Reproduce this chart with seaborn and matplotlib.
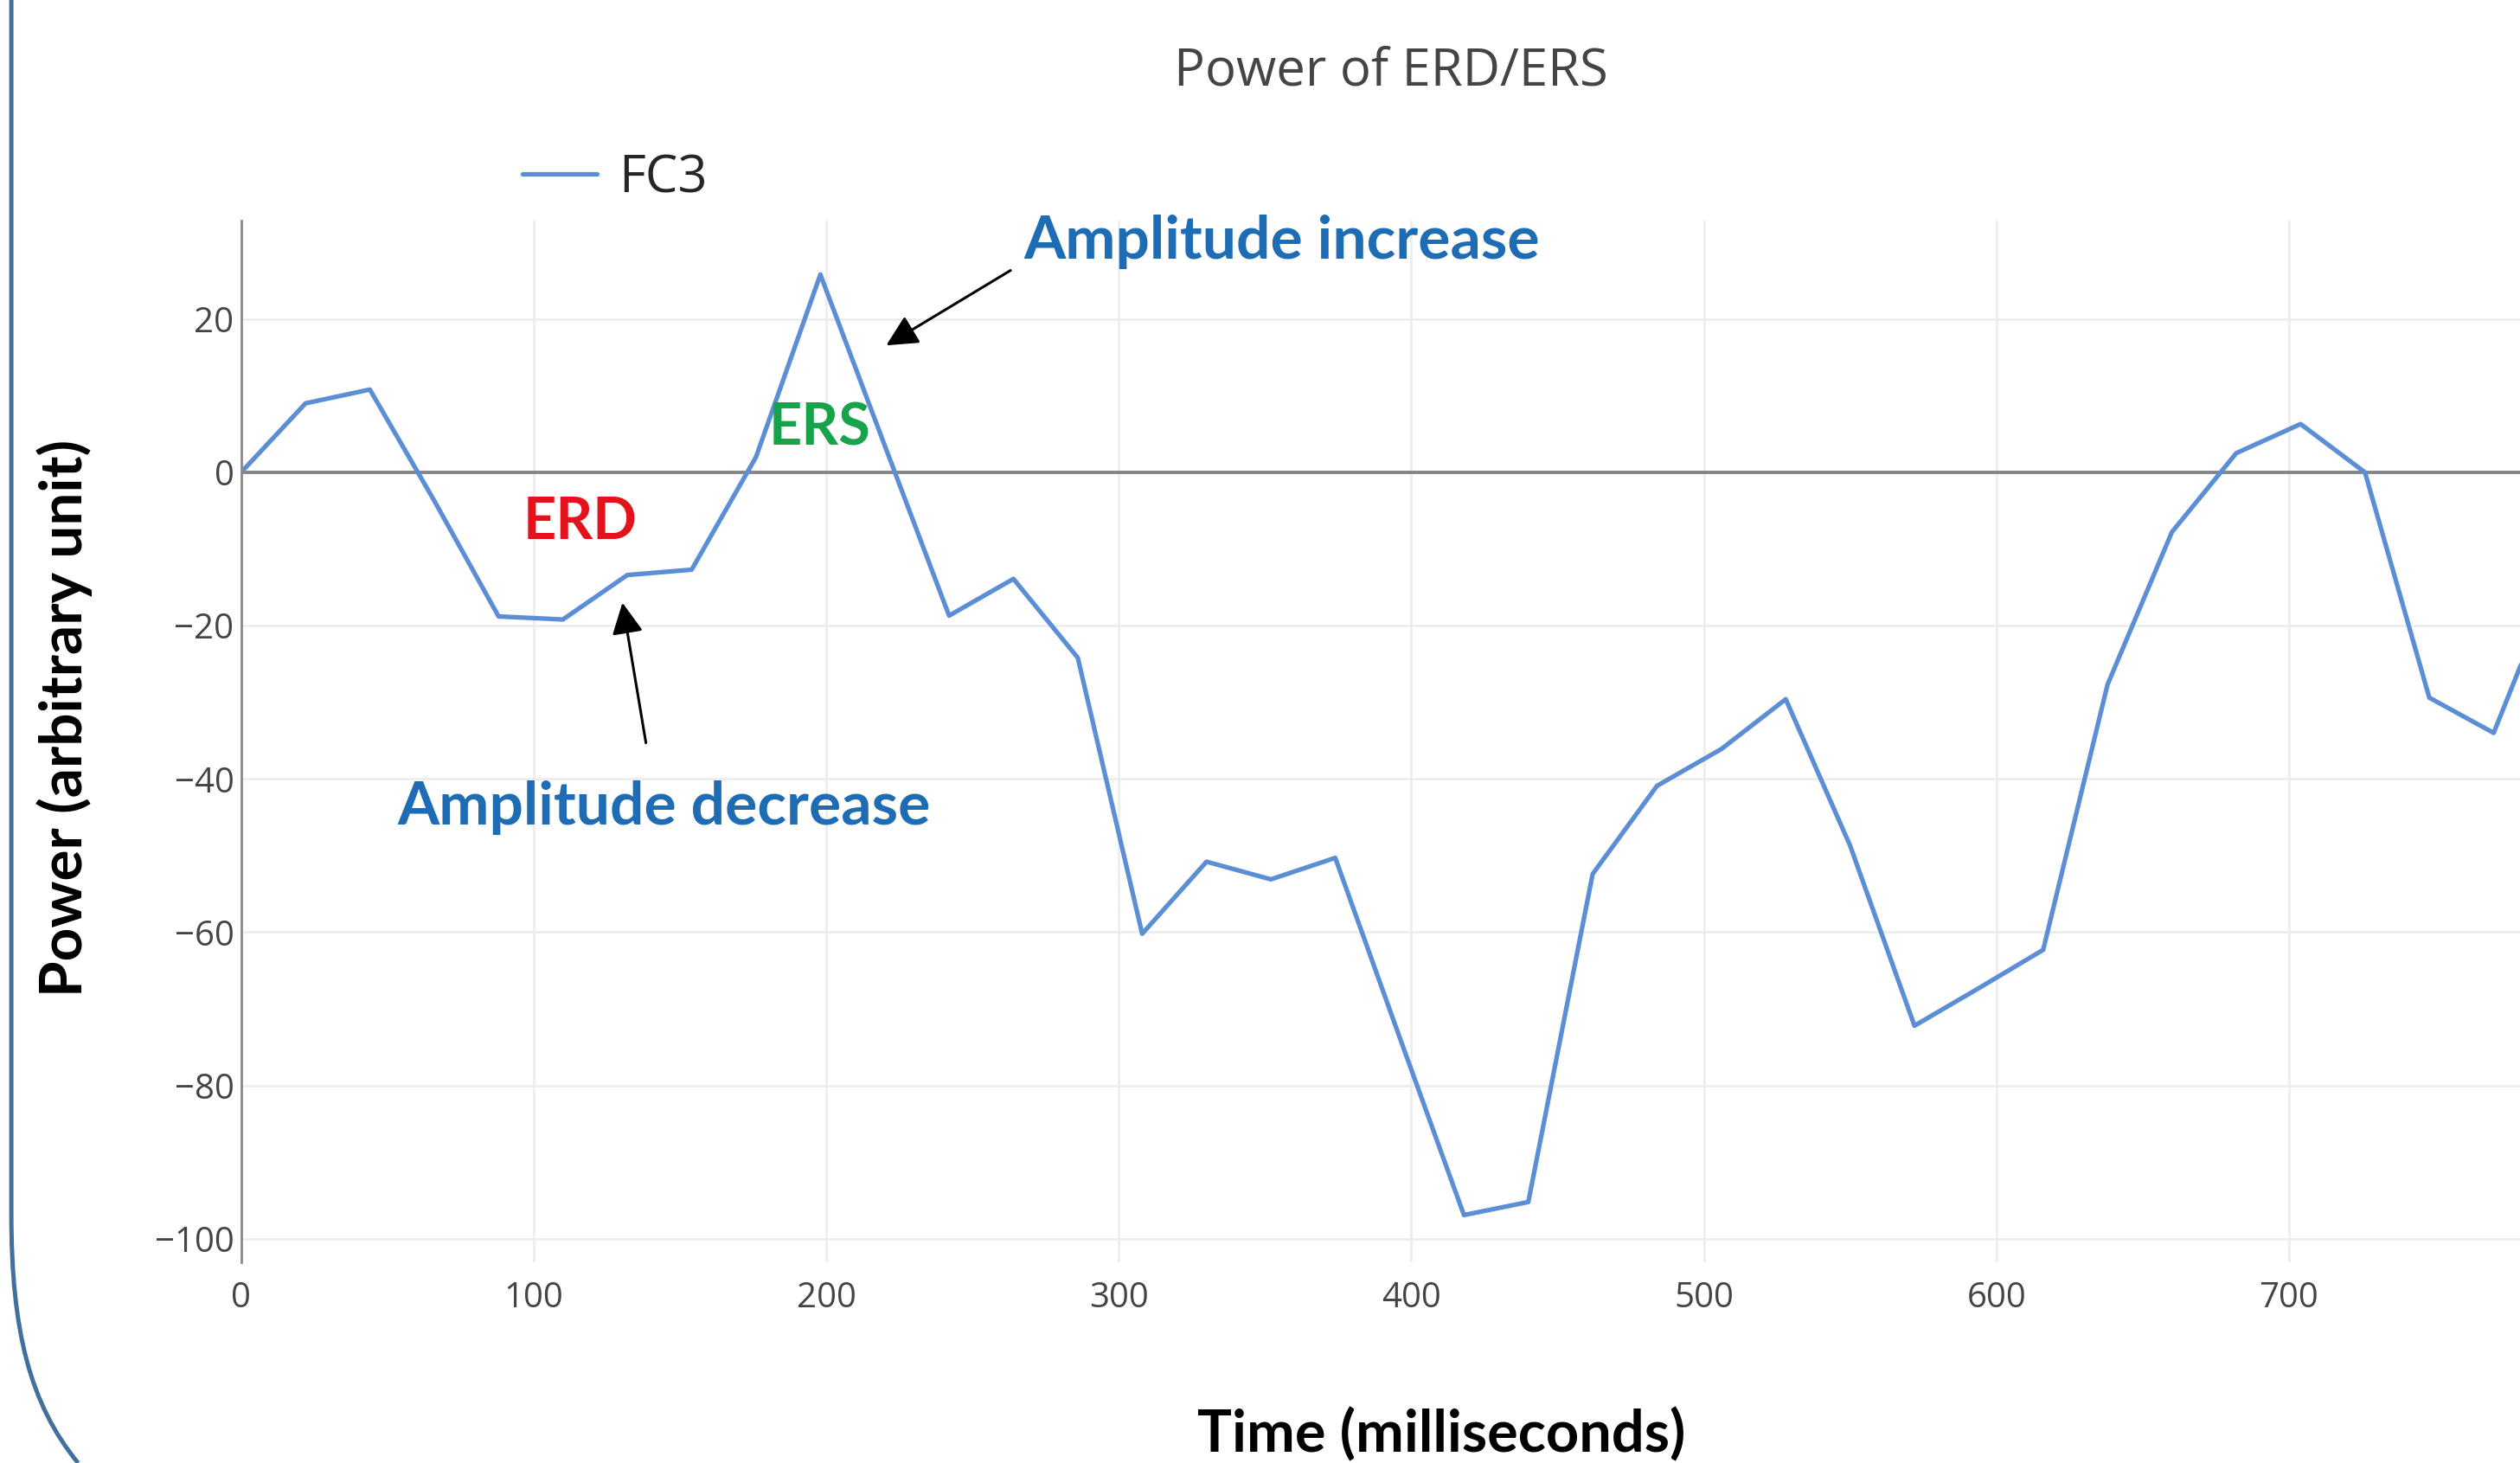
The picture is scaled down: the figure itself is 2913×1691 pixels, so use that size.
import matplotlib
matplotlib.use("Agg")
import matplotlib.pyplot as plt
import seaborn as sns
from matplotlib.path import Path
from matplotlib.patches import PathPatch

# FC3 ERD/ERS power trace
time_ms = [0, 22, 44, 66, 88, 110, 132, 154, 176, 198, 220, 242, 264, 286,
           308, 330, 352, 374, 396, 418, 440, 462, 484, 506, 528, 550, 572,
           594, 616, 638, 660, 682, 704, 726, 748, 770, 792]
power = [0, 9.0, 10.8, -3.7, -18.8, -19.2, -13.4, -12.7, 2.0, 25.8, 3.5,
         -18.7, -13.9, -24.2, -60.2, -50.8, -53.1, -50.3, -73.7, -96.9,
         -95.2, -52.4, -40.9, -36.1, -29.6, -48.7, -72.2, -67.3, -62.3,
         -27.7, -7.8, 2.5, 6.3, 0, -29.4, -34.0, -13.0]
x_ticks = [0, 100, 200, 300, 400, 500, 600, 700]
y_ticks = [-100, -80, -60, -40, -20, 0, 20]

sns.set_style("white")
plt.rcParams['font.family'] = ['Open Sans', 'DejaVu Sans']

fig = plt.figure(figsize=(29.13, 16.91), dpi=100)
ax = fig.add_axes([0.0957, 0.137, 0.9043, 0.712])

sns.lineplot(x=time_ms, y=power, ax=ax, color='#5B8ED4', linewidth=3.8,
             label='FC3', clip_on=True)

ax.set_xlim(0, 779)
ax.set_ylim(-103.1, 32.8)
ax.set_xticks(x_ticks)
ax.set_yticks(y_ticks)
ax.grid(True, color='#ECECEC', linewidth=1.8)
ax.axhline(0, color='#858585', linewidth=2.8, zorder=1.5)
ax.tick_params(axis='both', length=0, labelsize=29, labelcolor='#444444')
ax.tick_params(axis='x', pad=15)
ax.tick_params(axis='y', pad=6)
for s in ['top', 'right', 'bottom']:
    ax.spines[s].set_visible(False)
ax.spines['left'].set_color('#8A8A8A')
ax.spines['left'].set_linewidth(2.0)

ax.legend(loc='center left', bbox_to_anchor=(0.2073, 0.878),
          bbox_transform=fig.transFigure, frameon=False, fontsize=43,
          handlelength=1.45, handletextpad=0.42, borderpad=0,
          borderaxespad=0)

fig.text(0.552, 0.951, 'Power of ERD/ERS', ha='center', va='center',
         fontsize=43, color='#444444')

bold = dict(family=['Lato', 'DejaVu Sans'], fontweight='bold')
ax.text(267.6, 30.1, 'Amplitude increase', ha='left', va='center',
        fontsize=50, color='#1E6DB4', **bold)
ax.text(144.5, -43.8, 'Amplitude decrease', ha='center', va='center',
        fontsize=50, color='#1E6DB4', **bold)
ax.text(197.8, 5.7, 'ERS', ha='center', va='center', fontsize=48,
        color='#17A34A', **bold)
ax.text(115.9, -6.6, 'ERD', ha='center', va='center', fontsize=48,
        color='#E3121B', **bold)

arrow = dict(arrowstyle='-|>', color='black', lw=2.2, mutation_scale=55)
ax.annotate('', xy=(219.8, 16.4), xytext=(263.7, 26.5), arrowprops=arrow)
ax.annotate('', xy=(130.2, -16.7), xytext=(138.5, -35.6), arrowprops=arrow)

fig.text(0.0255, 0.509, 'Power (arbitrary unit)', rotation=90,
         ha='center', va='center', fontsize=48.5, color='black', **bold)
fig.text(0.572, 0.019, 'Time (milliseconds)', ha='center', va='center',
         fontsize=48, color='black', **bold)

# decorative frame edge on the left
verts = [(0.0045, 1.0), (0.0045, 0.17), (0.0045, 0.09), (0.012, 0.04),
         (0.031, 0.0)]
codes = [Path.MOVETO, Path.LINETO, Path.CURVE4, Path.CURVE4, Path.CURVE4]
fig.add_artist(PathPatch(Path(verts, codes), transform=fig.transFigure,
                         facecolor='none', edgecolor='#41709E', lw=3.6))

fig.savefig('out.png', dpi=100)
